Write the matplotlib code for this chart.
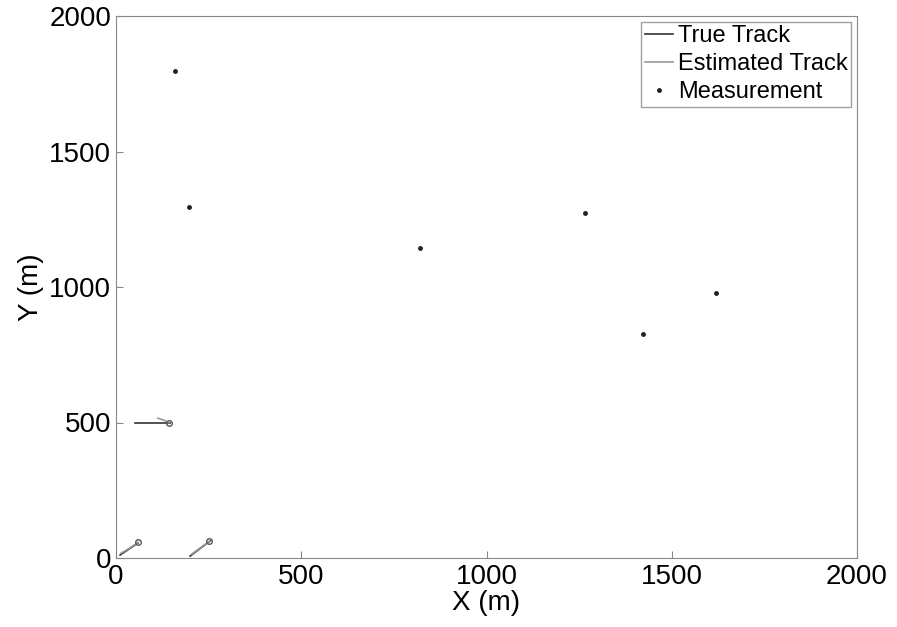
import matplotlib
matplotlib.use("Agg")
import matplotlib.pyplot as plt

plt.rcParams['font.family'] = ['Liberation Sans', 'DejaVu Sans']

# measurements
meas_x = [159, 197, 820, 1266, 1422, 1619]
meas_y = [1797, 1295, 1143, 1273, 827, 978]

# true tracks
true1_x = [51, 146]
true1_y = [500, 500]
true2_x = [11, 59]
true2_y = [11, 55]
true3_x = [200, 254]
true3_y = [7, 63]

# estimated tracks
est1_x = [113, 130, 142]
est1_y = [516, 508, 500]
est2_x = [14, 35, 60]
est2_y = [18, 35, 58]
est3_x = [205, 230, 252]
est3_y = [15, 40, 62]

fig = plt.figure(figsize=(8.97, 6.27), dpi=100)
ax = fig.add_axes([116/897, 1-558/627, (857-116)/897, (558-16)/627])

ax.plot(true1_x, true1_y, color='#333333', lw=1.2, label='True Track')
ax.plot(est1_x, est1_y, color='#999999', lw=1.2, label='Estimated Track')
ax.plot(true2_x, true2_y, color='#333333', lw=1.2)
ax.plot(est2_x, est2_y, color='#999999', lw=1.2)
ax.plot(true3_x, true3_y, color='#333333', lw=1.2)
ax.plot(est3_x, est3_y, color='#999999', lw=1.2)
ax.plot([est1_x[-1]], [est1_y[-1]], 'o', ms=4, mfc='none', mec='#555555')
ax.plot([est2_x[-1]], [est2_y[-1]], 'o', ms=4, mfc='none', mec='#555555')
ax.plot([est3_x[-1]], [est3_y[-1]], 'o', ms=4, mfc='none', mec='#555555')
ax.plot(meas_x, meas_y, '.', color='#222222', ms=5, ls='none', label='Measurement')

ax.set_xlim(0, 2000)
ax.set_ylim(0, 2000)
ax.set_xticks([0, 500, 1000, 1500, 2000])
ax.set_yticks([0, 500, 1000, 1500, 2000])
ax.tick_params(labelsize=20, direction='in', length=5, color='#888888')
ax.tick_params(axis='x', pad=4)
ax.set_xlabel('X (m)', fontsize=20, labelpad=0)
ax.set_ylabel('Y (m)', fontsize=20, labelpad=4)
for s in ax.spines.values():
    s.set_color('#888888')

leg = ax.legend(loc='upper right', fontsize=17, frameon=True, fancybox=False,
                edgecolor='#888888', borderpad=0.15, handlelength=1.2,
                handletextpad=0.2, labelspacing=0.25, borderaxespad=0.25)
leg.get_frame().set_linewidth(1.0)

fig.savefig('out.png', dpi=100)
